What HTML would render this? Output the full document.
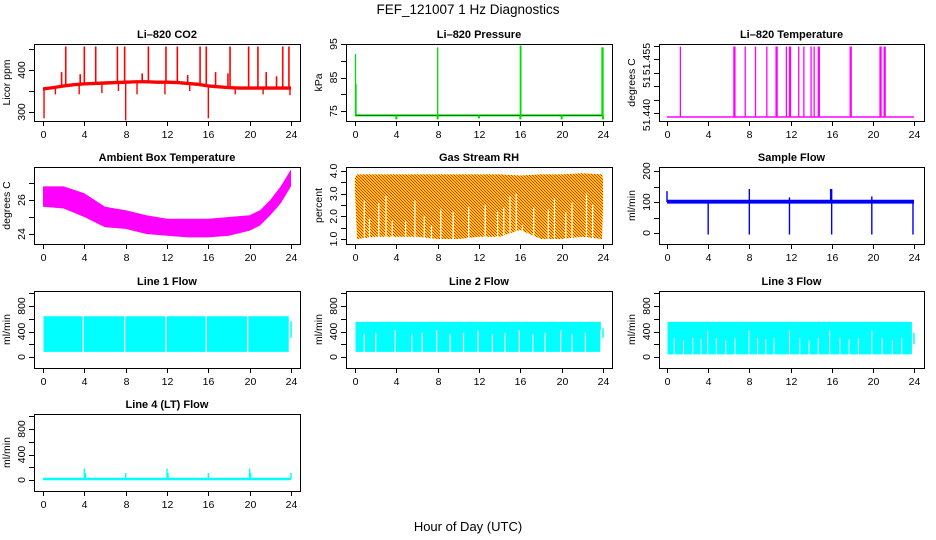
<!DOCTYPE html>
<html><head><meta charset="utf-8"><style>
html,body{margin:0;padding:0;background:#fff}
svg{display:block}
text{font-family:"Liberation Sans",sans-serif;fill:#000}
.pt{font-size:11px;font-weight:bold}
.tk{font-size:10.5px}
.yl{font-size:10.5px}
</style></head><body>
<svg id="chart" width="936" height="540" viewBox="0 0 936 540">
<defs>
<pattern id="rhpat" width="3" height="3" patternUnits="userSpaceOnUse">
<rect width="3" height="3" fill="#ffd000"/><rect width="1" height="1" fill="#ff2000"/><rect x="1" y="1" width="1" height="1" fill="#ff2000"/><rect x="2" y="2" width="1" height="1" fill="#ff2000"/>
</pattern>
</defs>
<text x="468" y="14" text-anchor="middle" font-size="13.5">FEF_121007  1 Hz Diagnostics</text>
<text x="468" y="531" text-anchor="middle" font-size="13">Hour of Day (UTC)</text>
</svg>
<script>
// ---- shared ----
const xTicks=[0,4,8,12,16,20,24];
// CO2
const co2Hours=[0,1,2,3,4,5,6,7,8,9,10,11,12,13,14,15,16,17,18,19,20,21,22,23,24];
const co2Base=[355,358,362,365,367,368,369,370,371,372,372,371,371,370,368,366,362,360,358,357,357,357,357,357,357];
const co2SpikeHours=[2.2,4.0,5.1,7.2,7.9,10.2,11.9,13.0,15.2,15.8,18.1,19.9,20.8,23.2,23.8,1.8,3.6,9.6,14.0,16.7,17.9,21.6,22.6];
const co2SpikeVals=[456,456,456,456,456,456,456,456,456,456,456,456,456,456,456,395,390,392,388,395,392,395,385];
const co2DipHours=[0.1,8.0,16.0,23.9,1.2,3.5,5.7,7.3,9.1,11.8,14.2,18.6,21.3];
const co2DipVals=[285,280,285,340,342,342,345,350,342,342,350,342,342];
// Pressure
const presBase=73.7;
const presSpikeHours=[0.05,0.1,8.0,16.0,16.05,23.9,24.0];
const presSpikeVals=[92,83,94,94.5,94.5,94,94];
const presDipHours=[4,8,12,16,20,24];
const presDipVals=[72.5,72.5,72.8,72.5,72.5,72.5];
// Temperature
const tempBase=51.4335;
const tempSpikeHours=[1.3,6.5,6.6,7.6,8.6,9.7,10.6,10.7,11.6,11.9,12.0,12.8,13.3,14.0,14.3,14.7,14.8,17.8,17.9,20.7,20.8,21.1,21.2];
const tempSpikeVal=51.4598;
// Ambient
const ambHours=[0,2,4,6,8,10,12,14,16,18,20,21,22,23,24];
const ambUpper=[26.8,26.8,26.4,25.6,25.4,25.1,24.9,24.9,24.9,25.0,25.1,25.4,26.0,26.8,27.8];
const ambLower=[25.6,25.5,25.0,24.4,24.3,24.0,23.9,23.8,23.8,23.9,24.2,24.5,25.1,25.8,26.8];
// RH
const rhHours=[0,0.2,2,4,6,8,10,12,14,16,18,20,22,23.9,24];
const rhUpper=[3.7,3.85,3.85,3.85,3.85,3.85,3.85,3.85,3.85,3.8,3.85,3.85,3.9,3.85,3.6];
const rhLower=[3.1,1.0,1.1,1.1,1.1,1.0,1.0,1.1,1.1,1.4,1.0,1.0,1.1,1.0,2.4];
const rhGapHours=[0.9,1.4,2.3,3.0,3.6,4.9,5.8,6.7,7.4,8.3,9.5,11.0,12.6,13.8,14.4,15.0,15.6,16.2,17.3,18.7,19.3,20.4,21.0,22.4,23.0];
const rhGapTops=[2.7,1.9,2.6,2.9,1.8,1.8,2.7,2.0,1.6,2.3,2.2,2.4,2.5,2.2,2.4,2.9,3.0,1.6,2.4,2.3,2.8,2.2,2.6,3.0,2.5];
// Sample flow
const sfBandLow=95, sfBandHigh=107;
const sfDipHours=[4.0,8.0,11.9,16.0,19.9,23.9];
const sfDipVals=[-5,-5,-5,-5,-5,-5];
const sfSpikeHours=[0.0,8.0,16.0,15.9,11.9,19.9];
const sfSpikeVals=[135,142,142,142,115,118];
// Line flows
const l1Upper=640, l1Lower=80;
const l1GapHours=[3.9,7.9,11.9,15.8,19.8,23.85];
const l2Upper=550, l2Lower=80;
const l2GapHours=[0.9,2.0,3.9,5.5,6.5,7.9,9.2,10.5,11.9,13.3,14.5,15.9,17.2,18.4,19.9,21.0,22.3,23.8];
const l2GapTops=[360,380,420,360,380,420,360,380,420,360,380,420,360,380,420,360,380,420];
const l3Upper=550, l3Lower=40;
const l3GapHours=[0.7,1.6,2.5,3.3,3.95,4.8,5.7,6.6,7.95,8.8,9.6,10.4,11.9,12.9,13.8,14.7,15.8,16.8,17.7,18.6,19.9,20.9,21.9,22.8];
const l3GapTops=[300,260,300,280,420,300,260,300,420,300,280,300,420,300,260,300,420,300,280,300,420,300,260,300];
const l4Base=20, l4BaseHi=35, l4BaseLo=-5;
const l4SpikeHours=[4.0,4.1,8.0,12.0,12.1,16.0,20.0,20.1,24.0];
const l4SpikeVals=[180,110,110,180,110,110,180,110,110];

const svg=document.getElementById('chart');
const NS='http://www.w3.org/2000/svg';
function mk(tag,attrs,parent){const e=document.createElementNS(NS,tag);for(const k in attrs)e.setAttribute(k,attrs[k]);(parent||svg).appendChild(e);return e;}

const colL=[34,346,659], colR=[300,612,924], x0=[43,355,667], x24=[291,603,914];
const rowT=[44,167,291,414], boxH=77;

function makePanel(name,title,c,r,dom,rng,ticks,labels,labelPos,ytitle){
  const g=mk('g',{});
  
  
  const top=rowT[r];
  const xs=h=>x0[c]+(h/24)*(x24[c]-x0[c]);
  const ys=v=>top+rng[0]+(v-dom[0])/(dom[1]-dom[0])*(rng[1]-rng[0]);
  const t=mk('text',{x:(colL[c]+colR[c])/2,y:top-6,'text-anchor':'middle',class:'pt'},g);
  t.textContent=title;
  
  
  const plot=mk('g',{},g);
  
  
  const ax=mk('g',{stroke:'#000','stroke-width':1},g);
  
  
  const bx=mk('rect',{x:colL[c]+.5,y:top+.5,width:colR[c]-colL[c],height:boxH,fill:'none'},ax);
  
  
  xTicks.forEach(h=>{
    const x=Math.round(xs(h))+.5;
    mk('line',{x1:x,x2:x,y1:top+boxH,y2:top+boxH+5},ax);
    const tt=mk('text',{x:x,y:top+boxH+17,'text-anchor':'middle',class:'tk',stroke:'none'},g);
    tt.textContent=h;
    
    
  });
  ticks.forEach(v=>{
    const y=Math.round(ys(v))+.5;
    mk('line',{x1:colL[c]-5,x2:colL[c],y1:y,y2:y},ax);
  });
  labels.forEach((lb,i)=>{
    const y=labelPos? top+labelPos[i] : ys(lb.v);
    const tx=colL[c]-9;
    const tt=mk('text',{x:tx,y:y,'text-anchor':'middle',class:'tk',transform:`rotate(-90 ${tx} ${y})`},g);
    tt.textContent=lb.s;
    
    
  });
  const yx=colL[c]-24, yy=top+boxH/2;
  const yt=mk('text',{x:yx,y:yy,'text-anchor':'middle',class:'yl',transform:`rotate(-90 ${yx} ${yy})`},g);
  yt.textContent=ytitle;
  
  
  return {xs,ys,plot};
}
function vline(p,h,v1,v2,color,w,nm){
  const x=p.xs(h);
  const l=mk('line',{x1:x,x2:x,y1:p.ys(v1),y2:p.ys(v2),stroke:color,'stroke-width':w||1.2},p.plot);
  
  
  return l;
}
function band(p,hours,up,lo,fill,nm){
  let d='';
  hours.forEach((h,i)=>{d+=(i?'L':'M')+p.xs(h).toFixed(1)+' '+p.ys(up[i]).toFixed(1);});
  for(let i=hours.length-1;i>=0;i--)d+='L'+p.xs(hours[i]).toFixed(1)+' '+p.ys(lo[i]).toFixed(1);
  const e=mk('path',{d:d+'Z',fill:fill,stroke:'none'},p.plot);
  
  
  return e;
}
function line(p,hours,vals,color,w,nm){
  const e=mk('polyline',{points:hours.map((h,i)=>p.xs(h).toFixed(1)+','+p.ys(vals[i]).toFixed(1)).join(' '),fill:'none',stroke:color,'stroke-width':w},p.plot);
  
  
}

// CO2
{const p=makePanel('co2-panel','Li\u2013820 CO2',0,0,[300,400],[68,26],[300,350,400,450],[{v:300,s:'300'},{v:400,s:'400'}],null,'Licor ppm');
 co2SpikeHours.forEach((h,i)=>vline(p,h,co2Base[Math.round(h)],co2SpikeVals[i],'#ff0000',1.6,'co2-spike'));
 co2DipHours.forEach((h,i)=>vline(p,h,co2Base[Math.round(h)],co2DipVals[i],'#ff0000',1.4,'co2-dip'));
 band(p,co2Hours,co2Base.map(v=>v+4),co2Base.map(v=>v-4),'#ff0000','co2-series');}
// Pressure
{const p=makePanel('pressure-panel','Li\u2013820 Pressure',1,0,[75,95],[67,0],[75,80,85,90,95],[{v:75,s:'75'},{v:85,s:'85'},{v:95,s:'95'}],null,'kPa');
 line(p,[0,24],[presBase,presBase],'#00dd00',2,'pressure-series');
 line(p,[0,24],[presBase,presBase],'#004400',0.6,'pressure-series-dots');
 presSpikeHours.forEach((h,i)=>vline(p,h,presBase,presSpikeVals[i],'#00dd00',1.3,'pressure-spike'));
 presDipHours.forEach((h,i)=>vline(p,h,presBase,presDipVals[i],'#00dd00',2,'pressure-dip'));}
// Temperature
{const p=makePanel('li820-temp-panel','Li\u2013820 Temperature',2,0,[51.435,51.46],[69,2],[51.435,51.44,51.445,51.45,51.455,51.46],[{v:0,s:'51.440'},{v:0,s:'51'},{v:0,s:'51.455'}],[71,38,15],'degrees C');
 line(p,[0,24],[tempBase,tempBase],'#ff00ff',1.6,'temperature-series');
 tempSpikeHours.forEach(h=>vline(p,h,tempBase,tempSpikeVal,'#ff00ff',1.3,'temperature-spike'));}
// Ambient
{const p=makePanel('ambient-temp-panel','Ambient Box Temperature',0,1,[24,26],[67,33],[24,25,26,27],[{v:24,s:'24'},{v:26,s:'26'}],null,'degrees C');
 band(p,ambHours,ambUpper,ambLower,'#ff00ff','ambient-series');}
// RH
{const p=makePanel('rh-panel','Gas Stream RH',1,1,[1,4],[72,4],[1,1.5,2,2.5,3,3.5,4],[{v:1,s:'1.0'},{v:2,s:'2.0'},{v:3,s:'3.0'},{v:4,s:'4.0'}],null,'percent');
 band(p,rhHours,rhUpper,rhLower,'url(#rhpat)','rh-series');
 rhGapHours.forEach((h,i)=>vline(p,h,0.95,rhGapTops[i],'#ffffff',1.3,'rh-gap'));}
// Sample flow
{const p=makePanel('sample-flow-panel','Sample Flow',2,1,[0,200],[66,4],[0,50,100,150,200],[{v:0,s:'0'},{v:100,s:'100'},{v:200,s:'200'}],null,'ml/min');
 band(p,[0,24],[sfBandHigh,sfBandHigh],[sfBandLow,sfBandLow],'#0000ff','sample-flow-series');
 sfDipHours.forEach((h,i)=>vline(p,h,100,sfDipVals[i],'#0000ff',1.4,'sample-flow-dip'));
 sfSpikeHours.forEach((h,i)=>vline(p,h,100,sfSpikeVals[i],'#0000ff',1.4,'sample-flow-spike'));}
// Line flows
const flowTicks=[0,200,400,600,800,1000], flowLabels=[{v:0,s:'0'},{v:400,s:'400'},{v:800,s:'800'}];
{const p=makePanel('line1-flow-panel','Line 1 Flow',0,2,[0,800],[66,15],flowTicks,flowLabels,null,'ml/min');
 band(p,[0.05,23.8],[l1Upper,l1Upper],[l1Lower,l1Lower],'#00ffff','line1-flow-series');
 vline(p,24,300,560,'#00ffff',1.5,'line1-flow-tail');
 l1GapHours.forEach(h=>vline(p,h,l1Lower,l1Upper+10,'#ffffff',1.3,'line1-flow-gap'));}
{const p=makePanel('line2-flow-panel','Line 2 Flow',1,2,[0,800],[66,15],flowTicks,flowLabels,null,'ml/min');
 band(p,[0.05,23.8],[l2Upper,l2Upper],[l2Lower,l2Lower],'#00ffff','line2-flow-series');
 vline(p,24,300,450,'#00ffff',1.5,'line2-flow-tail');
 l2GapHours.forEach((h,i)=>vline(p,h,l2Lower-5,l2GapTops[i],'#ffffff',1.2,'line2-flow-gap'));}
{const p=makePanel('line3-flow-panel','Line 3 Flow',2,2,[0,800],[66,15],flowTicks,flowLabels,null,'ml/min');
 band(p,[0.05,23.8],[l3Upper,l3Upper],[l3Lower,l3Lower],'#00ffff','line3-flow-series');
 vline(p,24,200,380,'#00ffff',1.5,'line3-flow-tail');
 l3GapHours.forEach((h,i)=>vline(p,h,l3Lower-5,l3GapTops[i],'#ffffff',1.0,'line3-flow-gap'));}
{const p=makePanel('line4-flow-panel','Line 4 (LT) Flow',0,3,[0,800],[66,15],flowTicks,flowLabels,null,'ml/min');
 band(p,[0,24],[l4BaseHi,l4BaseHi],[l4BaseLo,l4BaseLo],'#00ffff','line4-flow-series');
 l4SpikeHours.forEach((h,i)=>vline(p,h,l4Base,l4SpikeVals[i],'#00ffff',1.4,'line4-flow-spike'));}
</script>
</body></html>
